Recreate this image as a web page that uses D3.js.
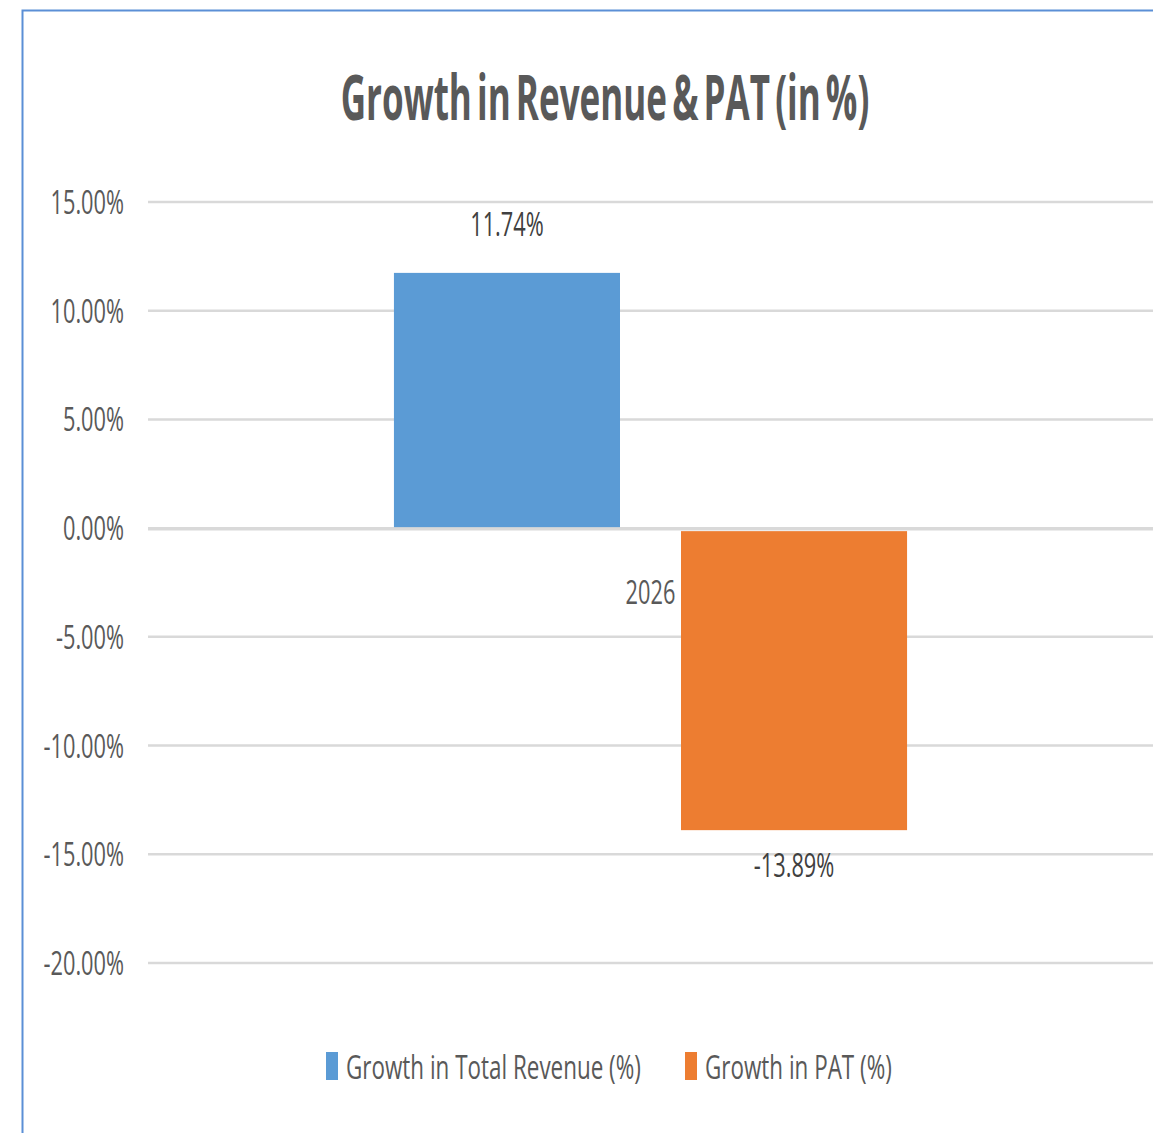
<!DOCTYPE html>
<html><head><meta charset="utf-8">
<script src="https://cdn.jsdelivr.net/npm/d3@7"></script>
<style>body{margin:0;background:#fff;} svg{display:block;}</style>
</head><body>
<script>
const categories = ["2026"];
const seriesNames = ["Growth in Total Revenue (%)", "Growth in PAT (%)"];
const seriesValues = [11.74, -13.89];
const seriesLabels = ["11.74%", "-13.89%"];
const seriesColors = ["#5b9bd5", "#ed7d31"];
const yTicks = [15, 10, 5, 0, -5, -10, -15, -20];
const title = "Growth in Revenue & PAT (in %)";

const W = 1153, H = 1133;
const svg = d3.select("body").append("svg").attr("width", W).attr("height", H);
svg.append("rect").attr("width", W).attr("height", H).attr("fill", "#fff");

// border
svg.append("path").attr("d", `M22.5,${H} L22.5,10.5 L${W},10.5`).attr("fill","none")
  .attr("stroke", "#5b8fd6").attr("stroke-width", 2);

const plotL = 148, plotR = 1153;
const y = d3.scaleLinear().domain([-20, 15]).range([963, 202]);
const x0 = d3.scaleBand().domain(categories).range([plotL, plotR]).paddingInner(0.324).paddingOuter(0.324);
const x1 = d3.scaleBand().domain(seriesNames).range([0, x0.bandwidth()]).paddingInner(0.2125).paddingOuter(0);

const font = "'Open Sans', 'Liberation Sans', sans-serif";
const fmt = d => d3.format(".2f")(d).replace("\u2212", "-") + "%";

function squeeze(sel, sx) {
  sel.each(function() {
    const t = d3.select(this);
    const xx = +t.attr("data-x"), yy = +t.attr("data-y");
    t.attr("transform", `translate(${xx},${yy}) scale(${sx},1)`);
  });
}

// gridlines
svg.append("g").selectAll("line").data(yTicks).join("line")
  .attr("x1", plotL).attr("x2", plotR)
  .attr("y1", d => y(d)).attr("y2", d => y(d))
  .attr("stroke", "#d9d9d9").attr("stroke-width", 2.5);

// y axis labels
const yAxis = d3.axisLeft(y).tickValues(yTicks).tickFormat(fmt).tickSize(0).tickPadding(0);
const yg = svg.append("g").attr("transform", `translate(124,0)`).call(yAxis);
yg.select(".domain").remove();
yg.selectAll(".tick text").each(function(d){
  const t = d3.select(this);
  t.attr("data-x", 0).attr("data-y", 0).attr("x", null).attr("dy", "0.35em")
   .attr("font-family", font).attr("font-size", 33).attr("fill", "#595959").attr("text-anchor", "end");
});
squeeze(yg.selectAll(".tick text"), 0.66);

// bars
const barG = svg.append("g");
seriesNames.forEach((s, i) => {
  const v = seriesValues[i];
  const bx = x0(categories[0]) + x1(s);
  const top = v >= 0 ? y(v) : y(0) + 3;
  const bot = v >= 0 ? y(0) - 1 : y(v);
  barG.append("rect").attr("x", bx).attr("y", top).attr("width", x1.bandwidth())
    .attr("height", bot - top).attr("fill", seriesColors[i]);
});
// zero line on top
svg.append("line").attr("x1", plotL).attr("x2", plotR).attr("y1", y(0)+1).attr("y2", y(0)+1)
  .attr("stroke", "#d9d9d9").attr("stroke-width", 2.5);

// data labels
const lbl = svg.append("g").selectAll("text").data(seriesNames).join("text")
  .attr("data-x", (s) => x0(categories[0]) + x1(s) + x1.bandwidth()/2)
  .attr("data-y", (s, i) => seriesValues[i] >= 0 ? y(seriesValues[i]) - 48 : y(seriesValues[i]) + 35)
  .attr("dy", "0.35em").attr("text-anchor", "middle")
  .attr("font-family", font).attr("font-size", 33).attr("fill", "#404040")
  .text((s, i) => seriesLabels[i]);
squeeze(lbl, 0.66);

// category label
const cat = svg.append("g").selectAll("text").data(categories).join("text")
  .attr("data-x", d => x0(d) + x0.bandwidth()/2).attr("data-y", 592)
  .attr("dy", "0.35em").attr("text-anchor", "middle")
  .attr("font-family", font).attr("font-size", 33).attr("fill", "#595959")
  .text(d => d);
squeeze(cat, 0.66);

// title
const tt = svg.append("text").attr("data-x", 605).attr("data-y", 98).attr("dy", "0.35em")
  .attr("text-anchor", "middle").attr("font-family", font).attr("font-weight", "bold")
  .attr("font-size", 62).attr("fill", "#595959").attr("word-spacing", -7).text(title);
squeeze(tt, 0.565);

// legend
const legX = [326, 685];
const lg = svg.append("g");
seriesNames.forEach((s, i) => {
  lg.append("rect").attr("x", legX[i]).attr("y", 1052).attr("width", 12).attr("height", 28).attr("fill", seriesColors[i]);
  const t = lg.append("text").attr("data-x", legX[i] + 20).attr("data-y", 1067).attr("dy", "0.35em")
    .attr("font-family", font).attr("font-size", 33).attr("fill", "#595959").text(s);
  squeeze(t, 0.68);
});
</script>
</body></html>
